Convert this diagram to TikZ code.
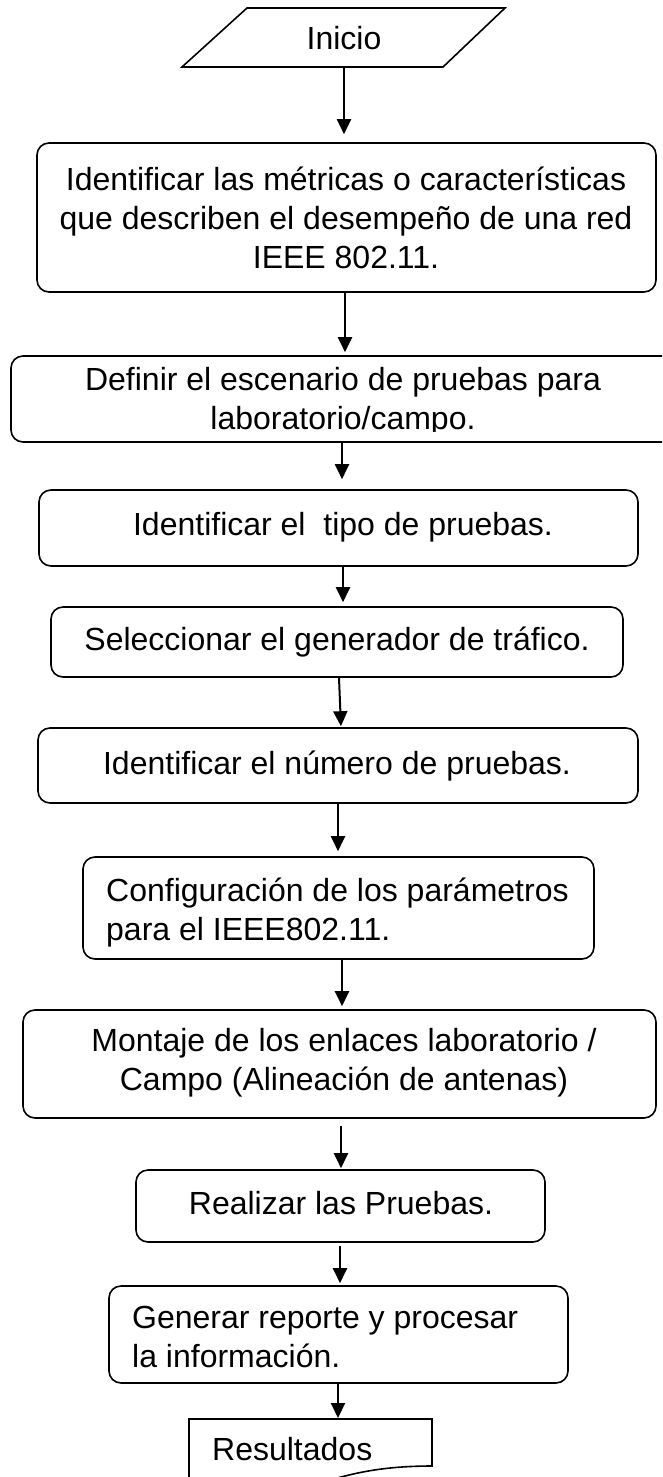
\documentclass[tikz,border=0pt]{standalone}
\usepackage{fontspec}
\setmainfont{Liberation Sans}
\usetikzlibrary{arrows.meta}
\begin{document}
\begin{tikzpicture}[x=1pt,y=-1pt,
  box/.style={draw, line width=1.6pt, rounded corners=12pt, inner sep=0pt},
  txt/.style={inner sep=0pt, font=\fontsize{32}{39}\selectfont},
  arr/.style={line width=2pt, -{Triangle[width=14pt,length=15pt]}},
  outline/.style={line width=1.6pt}]
\clip (0,0) rectangle (662,1477);
\fill[white] (0,0) rectangle (662,1477);
% start
\draw[outline] (247,8) -- (505,8) -- (443,67) -- (182,67) -- cycle;
\node[txt] (inicio) at (344,38) {Inicio};
\coordinate (pb) at (344,67);
% boxes
\node[box, minimum width=619pt, minimum height=149pt] (b1) at (346.5,217.5) {};
\node[txt, align=center] (t1) at (346,218) {Identificar las métricas o características\\que describen el desempeño de una red\\IEEE 802.11.};
\node[box, minimum width=700pt, minimum height=86pt] (b2) at (361,399) {};
\begin{scope}
\clip (0,0) rectangle (662,431);
\node[txt, align=center] (t2) at (343,402) {Definir el escenario de pruebas para\\laboratorio/campo.};
\end{scope}
\node[box, minimum width=599pt, minimum height=76pt] (b3) at (338.5,528) {};
\node[txt] (t3) at (343,527) {Identificar el \ tipo de pruebas.};
\node[box, minimum width=572pt, minimum height=70pt] (b4) at (337,642) {};
\node[txt] (t4) at (337,642) {Seleccionar el generador de tráfico.};
\node[box, minimum width=600pt, minimum height=75pt] (b5) at (338,765.5) {};
\node[txt] (t5) at (337,766) {Identificar el número de pruebas.};
\node[box, minimum width=511pt, minimum height=102pt] (b6) at (338.5,908) {};
\node[txt, align=left, anchor=west] (t6) at (106,912.5) {Configuración de los parámetros\\para el IEEE802.11.};
\node[box, minimum width=633pt, minimum height=108pt] (b7) at (339.5,1064) {};
\node[txt, align=center] (t7) at (344,1063) {Montaje de los enlaces laboratorio /\\Campo (Alineación de antenas)};
\node[box, minimum width=409pt, minimum height=72pt] (b8) at (340.5,1206) {};
\node[txt] (t8) at (341,1203) {Realizar las Pruebas.};
\node[box, minimum width=459pt, minimum height=97pt] (b9) at (338.5,1334.5) {};
\node[txt, align=left, anchor=west] (t9) at (132,1336.5) {Generar reporte y procesar\\la información.};
% document
\draw[outline] (189,1419) -- (432,1419) -- (432,1466) .. controls (310,1466) and (310,1510) .. (189,1495) -- cycle;
\coordinate (doctop) at (338,1419);
\node[txt, anchor=west] (t10) at (212,1449) {Resultados};
% arrows
\draw[arr, shorten >=8pt] (pb) -- ([xshift=-2.5pt]b1.north);
\draw[arr, shorten >=3pt] ([xshift=-1.5pt]b1.south) -- ([xshift=-16pt]b2.north);
\draw[arr, shorten >=10pt] ([xshift=-19pt]b2.south) -- ([xshift=3.5pt]b3.north);
\draw[arr, shorten >=4pt] ([xshift=4.5pt]b3.south) -- ([xshift=6pt]b4.north);
\draw[arr, shorten >=1pt] ([xshift=2pt]b4.south) -- ([xshift=3pt]b5.north);
\draw[arr, shorten >=5pt] (b5.south) -- ([xshift=-0.5pt]b6.north);
\draw[arr, shorten >=3pt] ([xshift=3.5pt]b6.south) -- ([xshift=2.5pt]b7.north);
\draw[arr, shorten <=7pt, shorten >=1pt] ([xshift=1.5pt]b7.south) -- ([xshift=0.5pt]b8.north);
\draw[arr, shorten <=3pt, shorten >=2pt] ([xshift=-0.5pt]b8.south) -- ([xshift=1.5pt]b9.north);
\draw[arr, shorten >=1pt] ([xshift=-0.5pt]b9.south) -- (doctop);
\end{tikzpicture}
\end{document}
